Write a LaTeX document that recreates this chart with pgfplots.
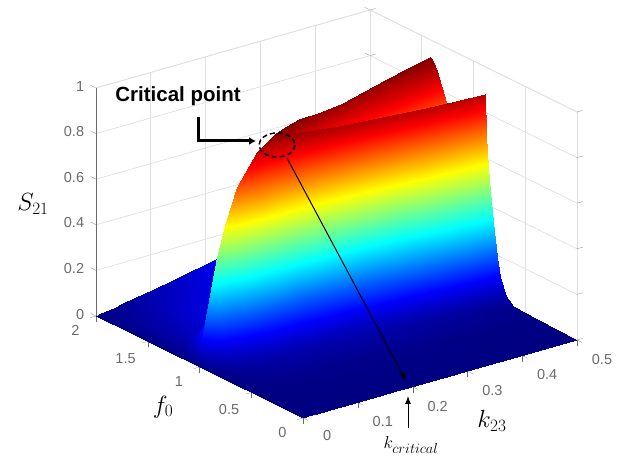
\documentclass[border=0pt]{standalone}
\usepackage{fontspec}
\setmainfont{Liberation Sans}
\usepackage{pgfplots}
\pgfplotsset{compat=1.18}
\usetikzlibrary{arrows.meta}
\definecolor{tickgray}{gray}{0.42}
\definecolor{wallgray}{gray}{0.88}
\begin{document}
\begin{tikzpicture}[x=1pt,y=1pt]
\useasboundingbox (0,0) rectangle (635,457);
\begin{axis}[
    at={(303pt,39pt)}, anchor=origin,
    x={(548pt,156pt)}, y={(-103.5pt,51pt)}, z={(0pt,228pt)},
    xmin=0, xmax=0.5, ymin=0, ymax=2, zmin=0, zmax=1,
    xtick={0,0.1,0.2,0.3,0.4,0.5},
    ytick={0,0.5,1,1.5,2},
    ztick={0,0.2,0.4,0.6,0.8,1},
    xtick pos=left, ytick pos=left, ztick pos=right, zticklabel pos=left,
    tick align=outside, major tick length=6pt,
    grid=major, grid style={wallgray, line width=0.7pt},
    axis line style={wallgray, line width=0.7pt},
    tick style={tickgray},
    tick label style={text=tickgray, font=\fontsize{14.5}{14.5}\selectfont, /pgf/number format/assume math mode=true},
    xticklabel style={xshift=13pt, yshift=-6pt},
    yticklabel style={xshift=-8pt, yshift=-4pt},
    zticklabel style={xshift=-3pt, yshift=-2pt},
    colormap/jet,
    point meta min=0, point meta max=0.93,
]
\addplot3[surf, shader=interp, z buffer=reverse xy seq, mesh/rows=15, mesh/cols=20] coordinates {
(0,0,0) (0,.5,0) (0,.73,0) (0,.8,0) (0,.85,0) (0,.88,0) (0,.91,0) (0,.95,0) (0,.97,0) (0,.985,0) (0,.998,0) (0,.999,0) (0,1,0) (0,1.001,0) (0,1.002,0) (0,1.003,0) (0,1.005,0) (0,1.05,0) (0,1.2,0) (0,2,0)
(.01,0,0) (.01,.5,.002) (.01,.73,.006) (.01,.8,.0105) (.01,.85,.018) (.01,.88,.025) (.01,.91,.033) (.01,.95,.059) (.01,.97,.083) (.01,.985,.114) (.01,.998,.15) (.01,.999,.15) (.01,1,.15) (.01,1.001,.15) (.01,1.002,.15) (.01,1.003,.15) (.01,1.005,.15) (.01,1.05,.06) (.01,1.2,.02) (.01,2,.005)
(.032,0,0) (.032,.5,.005) (.032,.73,.018) (.032,.8,.032) (.032,.85,.055) (.032,.88,.076) (.032,.91,.1) (.032,.95,.18) (.032,.97,.25) (.032,.985,.35) (.032,.998,.46) (.032,.999,.46) (.032,1,.46) (.032,1.001,.46) (.032,1.002,.46) (.032,1.003,.46) (.032,1.005,.46) (.032,1.05,.19) (.032,1.2,.055) (.032,2,.014)
(.05,0,0) (.05,.5,.006) (.05,.73,.024) (.05,.8,.042) (.05,.85,.072) (.05,.88,.099) (.05,.91,.132) (.05,.95,.234) (.05,.97,.33) (.05,.985,.456) (.05,.998,.6) (.05,.999,.6) (.05,1,.6) (.05,1.001,.6) (.05,1.002,.6) (.05,1.003,.6) (.05,1.005,.6) (.05,1.05,.25) (.05,1.2,.07) (.05,2,.022)
(.07,0,0) (.07,.5,.007) (.07,.73,.03) (.07,.8,.052) (.07,.85,.09) (.07,.88,.122) (.07,.91,.163) (.07,.95,.289) (.07,.97,.407) (.07,.985,.562) (.07,.998,.74) (.07,.999,.74) (.07,1,.74) (.07,1.001,.74) (.07,1.002,.74) (.07,1.003,.74) (.07,1.005,.74) (.07,1.05,.31) (.07,1.2,.09) (.07,2,.03)
(.105,0,0) (.105,.5,.009) (.105,.73,.035) (.105,.8,.061) (.105,.85,.104) (.105,.88,.144) (.105,.91,.191) (.105,.95,.339) (.105,.97,.479) (.105,.985,.661) (.105,.998,.87) (.105,.999,.87) (.105,1,.87) (.105,1.001,.87) (.105,1.002,.87) (.105,1.003,.87) (.105,1.005,.87) (.105,1.05,.36) (.105,1.2,.11) (.105,2,.047)
(.14,0,0) (.14,.5,.009) (.14,.73,.036) (.14,.8,.063) (.14,.85,.108) (.14,.88,.149) (.14,.91,.198) (.14,.95,.351) (.14,.97,.495) (.14,.985,.7) (.14,.998,.93) (.14,.999,.93) (.14,1,.93) (.14,1.001,.93) (.14,1.002,.93) (.14,1.003,.93) (.14,1.005,.93) (.14,1.05,.37) (.14,1.2,.12) (.14,2,.063)
(.17,0,0) (.17,.495,.009) (.17,.725,.036) (.17,.795,.063) (.17,.845,.107) (.17,.875,.148) (.17,.905,.197) (.17,.945,.349) (.17,.965,.492) (.17,.98,.69) (.17,.995,.91) (.17,1.005,.88) (.17,1.02,.81) (.17,1.03,.8) (.17,1.04,.86) (.17,1.045,.9) (.17,1.05,.93) (.17,1.1,.42) (.17,1.25,.13) (.17,2,.077)
(.2,0,0) (.2,.49,.009) (.2,.72,.036) (.2,.79,.062) (.2,.84,.107) (.2,.87,.147) (.2,.9,.196) (.2,.94,.347) (.2,.96,.49) (.2,.975,.68) (.2,.99,.9) (.2,1.005,.8) (.2,1.04,.72) (.2,1.06,.76) (.2,1.08,.85) (.2,1.09,.9) (.2,1.1,.93) (.2,1.15,.45) (.2,1.3,.14) (.2,2,.09)
(.25,0,0) (.25,.48,.009) (.25,.71,.036) (.25,.78,.062) (.25,.83,.107) (.25,.86,.147) (.25,.89,.197) (.25,.93,.346) (.25,.95,.49) (.25,.965,.675) (.25,.98,.89) (.25,1,.75) (.25,1.03,.6) (.25,1.06,.58) (.25,1.11,.78) (.25,1.135,.88) (.25,1.15,.915) (.25,1.2,.47) (.25,1.35,.15) (.25,2,.112)
(.3,0,0) (.3,.46,.009) (.3,.69,.036) (.3,.76,.064) (.3,.81,.106) (.3,.84,.148) (.3,.87,.2) (.3,.91,.345) (.3,.93,.49) (.3,.945,.67) (.3,.96,.885) (.3,.98,.72) (.3,1.02,.52) (.3,1.06,.5) (.3,1.13,.72) (.3,1.18,.87) (.3,1.2,.91) (.3,1.25,.5) (.3,1.4,.16) (.3,2,.135)
(.35,0,0) (.35,.445,.006) (.35,.673,.03) (.35,.743,.062) (.35,.793,.106) (.35,.823,.158) (.35,.853,.22) (.35,.893,.37) (.35,.913,.507) (.35,.928,.68) (.35,.943,.882) (.35,.965,.69) (.35,1.01,.46) (.35,1.1,.6) (.35,1.185,.8) (.35,1.235,.875) (.35,1.255,.915) (.35,1.305,.52) (.35,1.45,.18) (.35,2,.157)
(.4,0,0) (.4,.43,.005) (.4,.655,.026) (.4,.725,.055) (.4,.775,.11) (.4,.805,.165) (.4,.835,.246) (.4,.875,.396) (.4,.895,.528) (.4,.91,.686) (.4,.925,.88) (.4,.95,.66) (.4,1,.4) (.4,1.16,.68) (.4,1.24,.84) (.4,1.29,.88) (.4,1.31,.92) (.4,1.36,.55) (.4,1.5,.2) (.4,2,.18)
(.45,0,0) (.45,.41,.004) (.45,.637,.017) (.45,.707,.047) (.45,.757,.11) (.45,.787,.17) (.45,.817,.27) (.45,.857,.425) (.45,.877,.545) (.45,.892,.69) (.45,.907,.88) (.45,.935,.63) (.45,1,.35) (.45,1.215,.72) (.45,1.295,.86) (.45,1.345,.91) (.45,1.365,.922) (.45,1.415,.58) (.45,1.56,.22) (.45,2,.2)
(.5,0,0) (.5,.39,.003) (.5,.62,.01) (.5,.69,.04) (.5,.74,.11) (.5,.77,.19) (.5,.8,.3) (.5,.84,.46) (.5,.86,.565) (.5,.875,.7) (.5,.89,.88) (.5,.92,.6) (.5,1,.3) (.5,1.27,.76) (.5,1.35,.88) (.5,1.4,.92) (.5,1.42,.925) (.5,1.47,.6) (.5,1.62,.25) (.5,2,.225)
};
\end{axis}
\begin{scope}[shift={(0,457)},y=-1pt]
\draw[tickgray, line width=0.8pt] (96,88) -- (96,316);
\node[font=\bfseries\fontsize{20.5}{20.5}\selectfont, anchor=center] at (178,96) {Critical point};
\draw[line width=3pt, -{Latex[length=7pt,width=8pt]}] (198,117) -- (198,141) -- (256,141);
\draw[dash pattern=on 5pt off 3pt, line width=1.5pt] (277,145) ellipse (18 and 12);
\draw[line width=1pt, -{Latex[length=8pt,width=6pt]}] (287,158) -- (406,381);
\draw[line width=1pt, -{Latex[length=8pt,width=6pt]}] (408,428) -- (408,396);
\node[font=\fontsize{27}{27}\selectfont] at (33,204) {$S_{21}$};
\node[font=\fontsize{27}{27}\selectfont] at (163,407) {$f_0$};
\node[font=\fontsize{27}{27}\selectfont] at (492,421) {$k_{23}$};
\node[font=\fontsize{19}{19}\selectfont] at (411,445) {$k_{critical}$};
\end{scope}
\end{tikzpicture}
\end{document}
